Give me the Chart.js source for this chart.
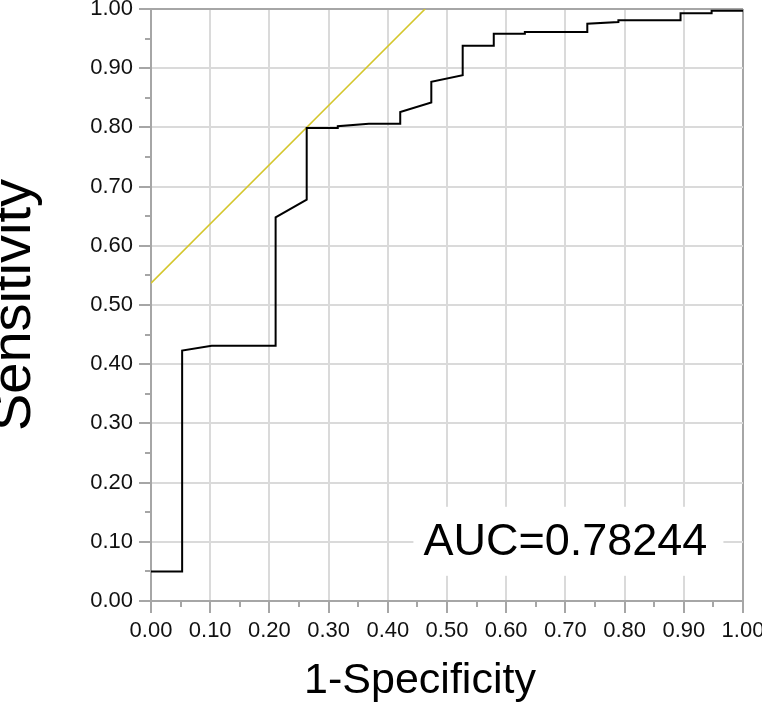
<!DOCTYPE html>
<html>
<head>
<meta charset="utf-8">
<script src="https://cdn.jsdelivr.net/npm/chart.js@4.4.1/dist/chart.umd.min.js"></script>
<style>
  html, body { margin: 0; padding: 0; background: #fff; }
  #wrap { width: 762px; height: 705px; position: relative; }
</style>
</head>
<body>
<div id="wrap"><canvas id="chart"></canvas></div>
<script>
// ROC curve vertices
const fpr = [0, 0.0526, 0.0526, 0.1025, 0.2105, 0.2105, 0.263, 0.263, 0.3155, 0.3155, 0.368, 0.421, 0.421, 0.4735, 0.4735,
             0.5265, 0.5265, 0.579, 0.579, 0.6315, 0.6315, 0.737, 0.737, 0.7895, 0.7895, 0.8945, 0.8945, 0.947, 0.947, 1.0];
const tpr = [0.05, 0.05, 0.423, 0.431, 0.431, 0.648, 0.678, 0.799, 0.799, 0.802, 0.806, 0.806, 0.826, 0.842, 0.877,
             0.888, 0.938, 0.938, 0.958, 0.958, 0.961, 0.961, 0.975, 0.978, 0.981, 0.981, 0.993, 0.993, 0.997, 0.997];

// tangent line at the best cut-off
const cutoffX = [0, 0.463];
const cutoffY = [0.537, 1.0];

const tickValues = [0, 0.1, 0.2, 0.3, 0.4, 0.5, 0.6, 0.7, 0.8, 0.9, 1.0];
const minorTickValues = [0.05, 0.15, 0.25, 0.35, 0.45, 0.55, 0.65, 0.75, 0.85, 0.95];

const xTitle = "1-Specificity";
const yTitle = "Sensitivity";
const aucLabel = "AUC=0.78244";
const aucPos = { x: 0.70, y: 0.10 };

const FONT = "'Liberation Sans', Arial, Helvetica, sans-serif";
const AXIS_GREY = "#a6a6a6";
const GRID_GREY = "#dadada";

const toPoints = (xs, ys) => xs.map((x, i) => ({ x: x, y: ys[i] }));

const minorTicks = {
    id: "minorTicks",
    afterDraw(chart) {
        const { ctx, scales: { x, y } } = chart;
        ctx.save();
        ctx.strokeStyle = AXIS_GREY;
        ctx.lineWidth = 2;
        minorTickValues.forEach((v) => {
            const px = Math.round(x.getPixelForValue(v));
            ctx.beginPath();
            ctx.moveTo(px, x.top);
            ctx.lineTo(px, x.top + 6);
            ctx.stroke();
            const py = Math.round(y.getPixelForValue(v));
            ctx.beginPath();
            ctx.moveTo(y.right - 6, py);
            ctx.lineTo(y.right, py);
            ctx.stroke();
        });
        ctx.restore();
    }
};

const aucBox = {
    id: "aucBox",
    beforeDatasetsDraw(chart) {
        const { ctx, scales: { x, y } } = chart;
        const cx = x.getPixelForValue(aucPos.x);
        const cy = y.getPixelForValue(aucPos.y);
        ctx.save();
        ctx.fillStyle = "#fff";
        ctx.fillRect(cx - 152, cy - 35, 310, 69);
        ctx.fillStyle = "#000";
        ctx.font = "45px " + FONT;
        ctx.textAlign = "center";
        ctx.textBaseline = "alphabetic";
        ctx.fillText(aucLabel, cx, cy + 13);
        ctx.restore();
    }
};

const xAxisTitle = {
    id: "xAxisTitle",
    afterDraw(chart) {
        const { ctx, chartArea } = chart;
        ctx.save();
        ctx.fillStyle = "#000";
        ctx.font = "43px " + FONT;
        ctx.textAlign = "center";
        ctx.textBaseline = "alphabetic";
        ctx.fillText(xTitle, (chartArea.left + chartArea.right) / 2 - 27, chart.height - 12);
        ctx.restore();
    }
};

const gridColor = (c) => (c.tick && c.tick.value === 1 ? AXIS_GREY : (c.tick && c.tick.value === 0 ? "rgba(0,0,0,0)" : GRID_GREY));

new Chart(document.getElementById("chart"), {
    type: "scatter",
    data: {
        datasets: [
            {
                label: "ROC",
                data: toPoints(fpr, tpr),
                showLine: true,
                borderColor: "#000",
                borderWidth: 2,
                pointRadius: 0,
                tension: 0,
                order: 1
            },
            {
                label: "Cut-off",
                data: toPoints(cutoffX, cutoffY),
                showLine: true,
                borderColor: "#d4c62c",
                borderWidth: 1.6,
                pointRadius: 0,
                tension: 0,
                order: 2
            }
        ]
    },
    options: {
        responsive: true,
        maintainAspectRatio: false,
        animation: false,
        layout: { padding: { top: 9, right: 19, left: 0, bottom: 0 } },
        plugins: {
            legend: { display: false },
            tooltip: { enabled: false }
        },
        scales: {
            x: {
                type: "linear",
                min: 0,
                max: 1,
                afterBuildTicks: (scale) => { scale.ticks = tickValues.map((v) => ({ value: v })); },
                afterFit: (scale) => {
                    scale.height = 104;
                    scale.paddingLeft = 0;
                    scale.paddingRight = 0;
                },
                border: { color: AXIS_GREY, width: 2 },
                grid: {
                    color: gridColor,
                    lineWidth: 2,
                    tickColor: AXIS_GREY,
                    tickLength: 12,
                    tickWidth: 2
                },
                ticks: {
                    color: "#111",
                    padding: 5,
                    maxRotation: 0,
                    font: { family: FONT, size: 22 },
                    callback: (v) => Number(v).toFixed(2)
                }
            },
            y: {
                type: "linear",
                min: 0,
                max: 1,
                afterBuildTicks: (scale) => { scale.ticks = tickValues.map((v) => ({ value: v })); },
                afterFit: (scale) => {
                    scale.width = 151;
                    scale.paddingTop = 0;
                    scale.paddingBottom = 0;
                },
                border: { color: AXIS_GREY, width: 2 },
                grid: {
                    color: gridColor,
                    lineWidth: 2,
                    tickColor: AXIS_GREY,
                    tickLength: 12,
                    tickWidth: 2
                },
                title: {
                    display: true,
                    text: yTitle,
                    color: "#000",
                    font: { family: FONT, size: 56, lineHeight: 1 },
                    padding: { top: -13, bottom: 0 }
                },
                ticks: {
                    color: "#111",
                    padding: 6,
                    font: { family: FONT, size: 22 },
                    callback: (v) => Number(v).toFixed(2)
                }
            }
        }
    },
    plugins: [minorTicks, aucBox, xAxisTitle]
});
</script>
</body>
</html>
